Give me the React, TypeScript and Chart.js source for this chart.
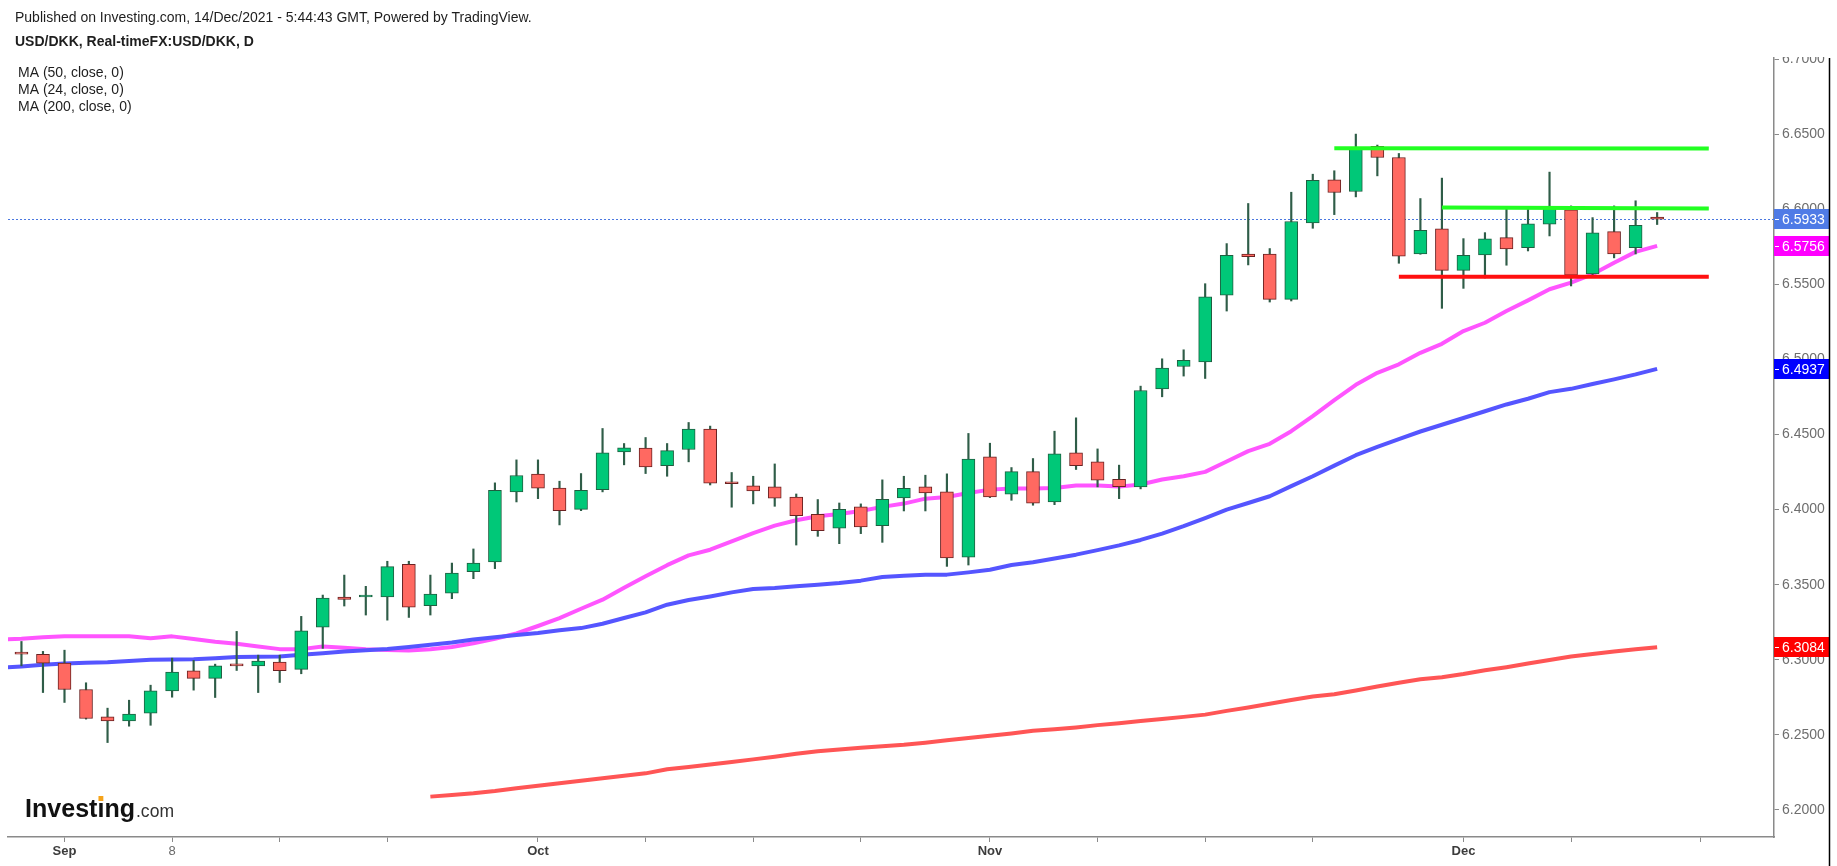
import React, { useEffect, useRef } from "react";
import { Chart, registerables } from "chart.js";

Chart.register(...registerables);

// ---- data ----
const dates = [
  "Aug 27", "Aug 30", "Aug 31", "Sep 1", "Sep 2", "Sep 3", "Sep 6", "Sep 7", "Sep 8", "Sep 9", "Sep 10",
  "Sep 13", "Sep 14", "Sep 15", "Sep 16", "Sep 17", "Sep 20", "Sep 21", "Sep 22", "Sep 23", "Sep 24",
  "Sep 27", "Sep 28", "Sep 29", "Sep 30", "Oct 1", "Oct 4", "Oct 5", "Oct 6", "Oct 7", "Oct 8",
  "Oct 11", "Oct 12", "Oct 13", "Oct 14", "Oct 15", "Oct 18", "Oct 19", "Oct 20", "Oct 21", "Oct 22",
  "Oct 25", "Oct 26", "Oct 27", "Oct 28", "Oct 29", "Nov 1", "Nov 2", "Nov 3", "Nov 4", "Nov 5",
  "Nov 8", "Nov 9", "Nov 10", "Nov 11", "Nov 12", "Nov 15", "Nov 16", "Nov 17", "Nov 18", "Nov 19",
  "Nov 22", "Nov 23", "Nov 24", "Nov 25", "Nov 26", "Nov 29", "Nov 30", "Dec 1", "Dec 2", "Dec 3",
  "Dec 6", "Dec 7", "Dec 8", "Dec 9", "Dec 10", "Dec 13", "Dec 14",
];
// trading-day index of the first date relative to Sep 1
const FIRST_DAY_INDEX = -3;

const opens = [
  null, 6.3042, 6.3036, 6.2978, 6.2802, 6.2620, 6.2593, 6.2644, 6.2793, 6.2927, 6.2876,
  6.2963, 6.2960, 6.2984, 6.2936, 6.3218, 6.3418, 6.3418, 6.3418, 6.3636, 6.3360,
  6.3444, 6.3587, 6.3651, 6.4118, 6.4236, 6.4144, 6.4002, 6.4133, 6.4384, 6.4409,
  6.4293, 6.4400, 6.4536, 6.4176, 6.4158, 6.4151, 6.4084, 6.3969, 6.3876, 6.4018,
  6.3893, 6.4078, 6.4151, 6.4118, 6.3684, 6.4351, 6.4102, 6.4253, 6.4051, 6.4378,
  6.4318, 6.4202, 6.4151, 6.4804, 6.4953, 6.4984, 6.5427, 6.5702, 6.5702, 6.5400,
  6.5909, 6.6196, 6.6118, 6.6418, 6.6344, 6.5702, 6.5869, 6.5593, 6.5696, 6.5811,
  6.5744, 6.5900, 6.5996, 6.5569, 6.5851, 6.5744, 6.5948,
];
const highs = [
  null, 6.3122, 6.3056, 6.3064, 6.2847, 6.2678, 6.2731, 6.2831, 6.3011, 6.2996, 6.2971,
  6.3189, 6.3031, 6.3031, 6.3289, 6.3431, 6.3564, 6.3489, 6.3656, 6.3656, 6.3564,
  6.3644, 6.3738, 6.4178, 6.4331, 6.4331, 6.4189, 6.4240, 6.4540, 6.4440, 6.4480,
  6.4440, 6.4580, 6.4556, 6.4247, 6.4222, 6.4304, 6.4104, 6.4067, 6.4044, 6.4038,
  6.4198, 6.4222, 6.4229, 6.4238, 6.4507, 6.4442, 6.4280, 6.4340, 6.4522, 6.4611,
  6.4404, 6.4296, 6.4822, 6.5004, 6.5064, 6.5504, 6.5771, 6.6038, 6.5738, 6.6113,
  6.6233, 6.6256, 6.6500, 6.6427, 6.6371, 6.6071, 6.6207, 6.5804, 6.5844, 6.6011,
  6.6011, 6.6247, 6.6022, 6.5944, 6.6022, 6.6056, 6.5978,
];
const lows = [
  null, 6.2960, 6.2782, 6.2716, 6.2605, 6.2449, 6.2558, 6.2564, 6.2751, 6.2798, 6.2749,
  6.2929, 6.2782, 6.2849, 6.2907, 6.3076, 6.3358, 6.3298, 6.3264, 6.3282, 6.3298,
  6.3407, 6.3540, 6.3607, 6.4051, 6.4073, 6.3898, 6.3993, 6.4118, 6.4298, 6.4240,
  6.4222, 6.4318, 6.4164, 6.4016, 6.4038, 6.4022, 6.3764, 6.3822, 6.3773, 6.3840,
  6.3782, 6.3991, 6.3991, 6.3622, 6.3631, 6.4080, 6.4062, 6.4029, 6.4033, 6.4267,
  6.4151, 6.4073, 6.4138, 6.4751, 6.4889, 6.4873, 6.5322, 6.5629, 6.5382, 6.5389,
  6.5873, 6.5964, 6.6082, 6.6222, 6.5640, 6.5700, 6.5340, 6.5473, 6.5542, 6.5627,
  6.5722, 6.5822, 6.5489, 6.5544, 6.5676, 6.5702, 6.5898,
];
const closes = [
  null, 6.3038, 6.2978, 6.2802, 6.2609, 6.2593, 6.2638, 6.2793, 6.2918, 6.2876, 6.2960,
  6.2959, 6.2991, 6.2927, 6.3193, 6.3411, 6.3402, 6.3420, 6.3620, 6.3351, 6.3438,
  6.3578, 6.3644, 6.4129, 6.4227, 6.4142, 6.3993, 6.4129, 6.4378, 6.4411, 6.4284,
  6.4393, 6.4536, 6.4176, 6.4172, 6.4124, 6.4076, 6.3960, 6.3860, 6.4002, 6.3884,
  6.4069, 6.4142, 6.4111, 6.3678, 6.4336, 6.4084, 6.4253, 6.4042, 6.4371, 6.4293,
  6.4196, 6.4153, 6.4793, 6.4942, 6.4993, 6.5416, 6.5693, 6.5684, 6.5400, 6.5918,
  6.6193, 6.6111, 6.6404, 6.6344, 6.5687, 6.5860, 6.5593, 6.5693, 6.5802, 6.5736,
  6.5902, 6.6011, 6.5560, 6.5842, 6.5702, 6.5893, 6.5933,
];
const ma24 = [
  6.3136, 6.3140, 6.3150, 6.3156, 6.3156, 6.3156, 6.3156, 6.3144, 6.3156, 6.3138, 6.3120,
  6.3107, 6.3089, 6.3071, 6.3071, 6.3089, 6.3080, 6.3070, 6.3065, 6.3062, 6.3070,
  6.3085, 6.3110, 6.3140, 6.3175, 6.3225, 6.3278, 6.3340, 6.3400, 6.3480, 6.3556,
  6.3630, 6.3695, 6.3733, 6.3789, 6.3844, 6.3893, 6.3929, 6.3956, 6.3971, 6.3991,
  6.4018, 6.4040, 6.4073, 6.4084, 6.4111, 6.4133, 6.4140, 6.4140, 6.4144, 6.4160,
  6.4160, 6.4153, 6.4167, 6.4200, 6.4222, 6.4251, 6.4320, 6.4389, 6.4438, 6.4522,
  6.4622, 6.4729, 6.4831, 6.4911, 6.4967, 6.5044, 6.5104, 6.5189, 6.5244, 6.5322,
  6.5393, 6.5467, 6.5511, 6.5567, 6.5644, 6.5716, 6.5756,
];
const ma50 = [
  6.2947, 6.2956, 6.2967, 6.2975, 6.2980, 6.2984, 6.2992, 6.3000, 6.3002, 6.3004, 6.3011,
  6.3018, 6.3020, 6.3022, 6.3033, 6.3044, 6.3055, 6.3063, 6.3072, 6.3085, 6.3100,
  6.3115, 6.3135, 6.3150, 6.3165, 6.3178, 6.3196, 6.3211, 6.3240, 6.3278, 6.3316,
  6.3367, 6.3398, 6.3422, 6.3449, 6.3471, 6.3478, 6.3489, 6.3500, 6.3511, 6.3527,
  6.3551, 6.3560, 6.3567, 6.3567, 6.3582, 6.3600, 6.3631, 6.3649, 6.3675, 6.3700,
  6.3730, 6.3762, 6.3798, 6.3840, 6.3890, 6.3944, 6.4000, 6.4044, 6.4089, 6.4156,
  6.4222, 6.4293, 6.4362, 6.4418, 6.4470, 6.4520, 6.4565, 6.4610, 6.4655, 6.4700,
  6.4738, 6.4782, 6.4804, 6.4836, 6.4867, 6.4900, 6.4937,
];
const ma200 = [
  null, null, null, null, null, null, null, null, null, null, null,
  null, null, null, null, null, null, null, null, null, 6.2089,
  6.2100, 6.2111, 6.2126, 6.2145, 6.2162, 6.2178, 6.2195, 6.2212, 6.2228, 6.2244,
  6.2271, 6.2287, 6.2303, 6.2320, 6.2337, 6.2355, 6.2374, 6.2391, 6.2402, 6.2414,
  6.2424, 6.2434, 6.2448, 6.2464, 6.2480, 6.2495, 6.2510, 6.2527, 6.2537, 6.2550,
  6.2565, 6.2578, 6.2592, 6.2606, 6.2620, 6.2635, 6.2660, 6.2682, 6.2707, 6.2732,
  6.2756, 6.2770, 6.2795, 6.2822, 6.2847, 6.2871, 6.2884, 6.2905, 6.2930, 6.2951,
  6.2975, 6.2998, 6.3022, 6.3038, 6.3055, 6.3070, 6.3084,
];

// hand-drawn levels (trading-day index, price)
const levelStartIdx = [59, 64, 62];
const levelEndIdx = [76.4, 76.4, 76.4];
const levelStartPrice = [6.6406, 6.6011, 6.5551];
const levelEndPrice = [6.6404, 6.6004, 6.5551];
const levelColors = ["#22ff22", "#22ff22", "#ff1010"];

// axes
const xTickIdx = [0, 5, 10, 15, 22, 27, 32, 37, 43, 48, 53, 58, 65, 70, 76];
const xTickLabels = ["Sep", "8", "", "", "Oct", "", "", "", "Nov", "", "", "", "Dec", "", ""];
const yTickValues = [6.2, 6.25, 6.3, 6.35, 6.4, 6.45, 6.5, 6.55, 6.6, 6.65, 6.7];
const X_MIN = -2.625;
const X_MAX = 79.43;
const Y_MIN = 6.18202;
const Y_MAX = 6.70067;

const headerLine1 = "Published on Investing.com, 14/Dec/2021 - 5:44:43 GMT, Powered by TradingView.";
const headerLine2 = "USD/DKK, Real-timeFX:USD/DKK, D";
const maLegend = ["MA (50, close, 0)", "MA (24, close, 0)", "MA (200, close, 0)"];

const FONT = "'Liberation Sans', Arial, Helvetica, sans-serif";
const UP = "#00c878";
const DOWN = "#ff6961";
const UP_BORDER = "#1f5e40";
const DOWN_BORDER = "#6a2222";
const WICK = "#2f5d48";
const C_MA24 = "#ff55ff";
const C_MA50 = "#5555ff";
const C_MA200 = "#ff5555";

export default function App() {
  const ref = useRef<HTMLCanvasElement>(null);

  useEffect(() => {
    const canvas = ref.current;
    if (!canvas) return;

    const xs = dates.map((_, i) => i + FIRST_DAY_INDEX);
    const bodies: any[] = [];
    const wicks: any[] = [];
    xs.forEach((x, i) => {
      if (opens[i] == null) return;
      bodies.push({ x, y: [opens[i], closes[i]] });
      wicks.push({ x, y: [lows[i], highs[i]] });
    });
    const line = (arr: (number | null)[]) =>
      xs.map((x, i) => ({ x, y: arr[i] })).filter((p) => p.y != null);

    const lastIdx = closes.length - 1;
    const lastClose = closes[lastIdx] as number;

    const levelSets = levelStartIdx.map((s, k) => ({
      type: "line",
      data: [
        { x: s, y: levelStartPrice[k] },
        { x: levelEndIdx[k], y: levelEndPrice[k] },
      ],
      borderColor: levelColors[k],
      borderWidth: 4,
      pointRadius: 0,
      borderCapStyle: "butt",
      order: 0,
    }));

    const decor = {
      id: "decor",
      beforeDatasetsDraw(chart: any) {
        const { ctx, chartArea, scales } = chart;
        const y = Math.round(scales.y.getPixelForValue(lastClose)) + 0.5;
        ctx.save();
        ctx.strokeStyle = "#4a78e0";
        ctx.lineWidth = 1;
        ctx.setLineDash([2, 2]);
        ctx.beginPath();
        ctx.moveTo(chartArea.left, y);
        ctx.lineTo(chartArea.right, y);
        ctx.stroke();
        ctx.restore();
      },
      afterDraw(chart: any) {
        const { ctx, chartArea, scales, width, height } = chart;
        const right = width - 8;
        ctx.save();
        // clip of the axis labels above the pane
        ctx.fillStyle = "#ffffff";
        ctx.fillRect(chartArea.right + 1, 0, right - chartArea.right - 1, chartArea.top - 1);

        // price boxes
        const boxes = [
          { v: ma200[ma200.length - 1] as number, c: "#ff0000" },
          { v: ma50[ma50.length - 1] as number, c: "#0000ff" },
          { v: ma24[ma24.length - 1] as number, c: "#ff00ff" },
          { v: lastClose, c: "#4f7be6" },
        ];
        ctx.font = `14px ${FONT}`;
        ctx.textBaseline = "middle";
        ctx.textAlign = "left";
        boxes.forEach((b) => {
          const y = scales.y.getPixelForValue(b.v);
          ctx.fillStyle = b.c;
          ctx.fillRect(chartArea.right, Math.round(y - 10), right - chartArea.right, 20);
          ctx.strokeStyle = "#ffffff";
          ctx.lineWidth = 1;
          ctx.beginPath();
          ctx.moveTo(chartArea.right + 1, Math.round(y) + 0.5);
          ctx.lineTo(chartArea.right + 5, Math.round(y) + 0.5);
          ctx.stroke();
          ctx.fillStyle = "#ffffff";
          ctx.fillText(b.v.toFixed(4), chartArea.right + 8, y + 1);
        });

        // right frame
        ctx.strokeStyle = "#000000";
        ctx.lineWidth = 1.5;
        ctx.beginPath();
        ctx.moveTo(right + 0.5, chartArea.top);
        ctx.lineTo(right + 0.5, height);
        ctx.stroke();

        // header
        ctx.fillStyle = "#1e1e1e";
        ctx.textBaseline = "middle";
        ctx.font = `14px ${FONT}`;
        ctx.fillText(headerLine1, 15, 18);
        ctx.font = `bold 14px ${FONT}`;
        ctx.fillText(headerLine2, 15, 42);
        ctx.font = `14px ${FONT}`;
        maLegend.forEach((t, k) => ctx.fillText(t, 18, 73 + k * 17));

        // logo
        ctx.textBaseline = "alphabetic";
        ctx.font = `bold 26px ${FONT}`;
        const word = "Investing";
        const w = ctx.measureText(word).width;
        const sx = 110 / w;
        ctx.save();
        ctx.translate(25, 817);
        ctx.scale(sx, 1);
        ctx.fillStyle = "#111111";
        ctx.fillText(word, 0, 0);
        const wi = ctx.measureText("Investi").width;
        const wI = ctx.measureText("i").width;
        ctx.fillStyle = "#f5a31a";
        ctx.fillRect(wi - wI * 0.85, -21, wI * 0.7, 5);
        ctx.restore();
        ctx.font = `19px ${FONT}`;
        const wc = ctx.measureText(".com").width;
        ctx.save();
        ctx.translate(136, 817);
        ctx.scale(38 / wc, 1);
        ctx.fillStyle = "#333333";
        ctx.fillText(".com", 0, 0);
        ctx.restore();

        ctx.restore();
      },
    };

    const chart = new Chart(canvas, {
      type: "bar",
      data: {
        datasets: [
          {
            type: "line",
            data: line(ma200),
            borderColor: C_MA200,
            borderWidth: 4,
            pointRadius: 0,
            order: 10,
          } as any,
          {
            type: "line",
            data: line(ma50),
            borderColor: C_MA50,
            borderWidth: 4,
            pointRadius: 0,
            order: 10,
          } as any,
          {
            type: "line",
            data: line(ma24),
            borderColor: C_MA24,
            borderWidth: 4,
            pointRadius: 0,
            order: 10,
          } as any,
          {
            type: "bar",
            data: wicks,
            backgroundColor: WICK,
            barThickness: 1.5,
            grouped: false,
            order: 5,
          } as any,
          {
            type: "bar",
            data: bodies,
            backgroundColor: (c: any) => (c.raw && c.raw.y[1] >= c.raw.y[0] ? UP : DOWN),
            borderColor: (c: any) => (c.raw && c.raw.y[1] >= c.raw.y[0] ? UP_BORDER : DOWN_BORDER),
            borderWidth: 1,
            borderSkipped: false,
            barThickness: 13,
            minBarLength: 2,
            grouped: false,
            order: 4,
          } as any,
          ...(levelSets as any[]),
        ],
      },
      options: {
        animation: false,
        responsive: true,
        maintainAspectRatio: false,
        layout: { padding: { left: 8, top: 58, right: 0, bottom: 0 } },
        plugins: { legend: { display: false }, tooltip: { enabled: false } },
        elements: { line: { tension: 0, borderJoinStyle: "round" } },
        scales: {
          x: {
            type: "linear",
            min: X_MIN,
            max: X_MAX,
            offset: false,
            afterFit: (s: any) => {
              s.height = 29;
            },
            afterBuildTicks: (s: any) => {
              s.ticks = xTickIdx.map((v) => ({ value: v }));
            },
            grid: { drawOnChartArea: false, drawTicks: true, tickLength: 5, color: "#8a8a8a", offset: false },
            border: { display: true, color: "#8a8a8a", width: 1.5 },
            ticks: {
              autoSkip: false,
              maxRotation: 0,
              padding: 2,
              callback: (v: any) => {
                const k = xTickIdx.indexOf(Number(v));
                return k >= 0 ? xTickLabels[k] : "";
              },
              color: (c: any) => {
                const k = xTickIdx.indexOf(c.tick?.value);
                return k >= 0 && /^[A-Za-z]/.test(xTickLabels[k]) ? "#3c3c3c" : "#6a6a6a";
              },
              font: (c: any) => {
                const k = xTickIdx.indexOf(c.tick?.value);
                const bold = k >= 0 && /^[A-Za-z]/.test(xTickLabels[k]);
                return { family: FONT, size: 13, weight: bold ? "bold" : "normal" };
              },
            },
          },
          y: {
            type: "linear",
            position: "right",
            min: Y_MIN,
            max: Y_MAX,
            afterFit: (s: any) => {
              s.width = 63;
            },
            afterBuildTicks: (s: any) => {
              s.ticks = yTickValues.map((v) => ({ value: v }));
            },
            grid: { drawOnChartArea: false, drawTicks: true, tickLength: 5, color: "#8a8a8a" },
            border: { display: true, color: "#8a8a8a", width: 1.5 },
            ticks: {
              padding: 3,
              color: "#6e6e6e",
              font: { family: FONT, size: 14 },
              callback: (v: any) => Number(v).toFixed(4),
            },
          },
        },
      } as any,
      plugins: [decor],
    });

    return () => chart.destroy();
  }, []);

  return (
    <div style={{ position: "fixed", left: 0, top: 0, width: 1837, height: 866, background: "#ffffff" }}>
      <canvas ref={ref} />
    </div>
  );
}
